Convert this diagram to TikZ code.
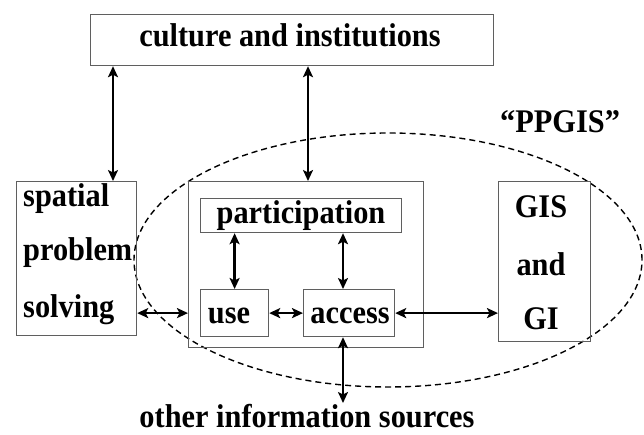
\documentclass[tikz,border=0pt]{standalone}
\usepackage{fontspec}
\setmainfont[FakeStretch=0.92]{Liberation Serif}
\usetikzlibrary{arrows.meta}
\definecolor{boxgray}{RGB}{95,95,95}
\begin{document}
\begin{tikzpicture}[x=1pt,y=-1pt,
  box/.style={draw=boxgray,line width=1.2pt,inner sep=0pt,anchor=north west},
  lbl/.style={font=\fontsize{33}{38}\selectfont\bfseries,inner sep=0pt,anchor=base},
  tip/.tip={Stealth[length=11pt,width=10pt,inset=2.5pt]},
  arr/.style={line width=2.3pt,tip-tip}]
\useasboundingbox (0,0) rectangle (644,435);
% dashed PPGIS region
\draw[line width=1.4pt,dash pattern=on 6pt off 4pt] (388,260) ellipse (254pt and 127pt);
% boxes
\node[box,minimum width=403pt,minimum height=51pt] (top) at (90,14) {};
\node[box,minimum width=120pt,minimum height=154pt] (sp) at (16,181) {};
\node[box,minimum width=235pt,minimum height=166pt] (ctr) at (188,181) {};
\node[box,minimum width=201pt,minimum height=34pt] (part) at (200,198) {};
\node[box,minimum width=68pt,minimum height=47pt] (use) at (200,289) {};
\node[box,minimum width=91pt,minimum height=47pt] (acc) at (303,289) {};
\node[box,minimum width=92pt,minimum height=160pt] (gis) at (498,181) {};
% texts
\node[lbl] (tcult) at (290,47) {culture and institutions};
\node[lbl,anchor=base west] (sp1) at (23,207) {spatial};
\node[lbl,anchor=base west] (sp2) at (23,261) {problem};
\node[lbl,anchor=base west] (sp3) at (23,317) {solving};
\node[lbl] (tpart) at (301,224) {participation};
\node[lbl] (tuse) at (229,323) {use};
\node[lbl] (tacc) at (350,323) {access};
\node[lbl] (g1) at (541,218) {GIS};
\node[lbl] (g2) at (541,275) {and};
\node[lbl] (g3) at (541,329) {GI};
\node[lbl,anchor=base west] (ppgis) at (500,133) {“PPGIS”};
\node[lbl] (other) at (307,427) {other information sources};
% helper x positions
\coordinate (xa) at (113,0);
\coordinate (xb) at (308,0);
\coordinate (xc) at (343,0);
\coordinate (xd) at (403,403);
% connectors
\draw[arr] (top.south -| xa) -- (sp.north -| xa);
\draw[arr] (top.south -| xb) -- (ctr.north -| xb);
\draw[arr] (part.south -| use.north) -- (use.north);
\draw[arr] (part.south -| xc) -- (acc.north -| xc);
\draw[arr] (use.east) -- (acc.west);
\draw[arr] (sp.east |- use.east) -- (ctr.west |- use.east);
\draw[arr] (acc.east) -- (gis.west |- acc.east);
\draw[arr] (acc.south -| xc) -- (xc |- xd);
\end{tikzpicture}
\end{document}
